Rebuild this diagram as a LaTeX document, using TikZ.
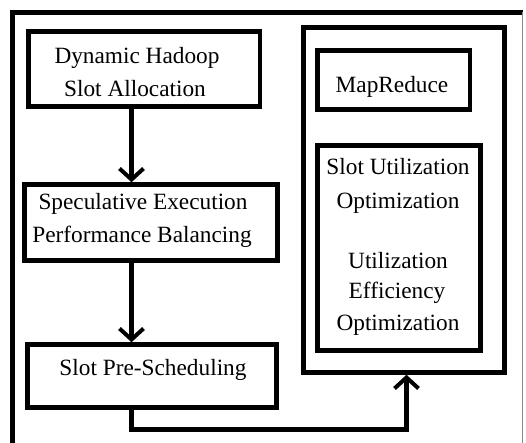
\documentclass[tikz,border=0pt]{standalone}
\usepackage{fontspec}
\setmainfont{Liberation Serif}
\usetikzlibrary{arrows.meta}
\begin{document}
\begin{tikzpicture}[x=1pt,y=-1pt,
  box/.style={draw=black,line width=4.5pt,inner sep=0pt,fill=none},
  lbl/.style={anchor=base,inner sep=0pt,font=\fontsize{23.3}{30}\selectfont},
  flow/.style={line width=4.5pt,-{Straight Barb[length=11pt,width=24pt,line width=4pt]}}]
\useasboundingbox (0,0) rectangle (526,443);
\fill[white] (0,0) rectangle (526,443);
% outer frame
\coordinate (fa) at (12.5,443);
\coordinate (fb) at (12.5,12.5);
\coordinate (fc) at (522.7,12.5);
\coordinate (fd) at (522.7,443);
\draw[line width=5pt] (fa) -- (fb) -- (fc);
\draw[line width=1pt,black!45] (fc) -- (fd);
% left boxes
\node[box,minimum width=231.5pt,minimum height=75pt] (b1) at (144.25,69) {};
\node[box,minimum width=253pt,minimum height=76pt] (b2) at (151,222.5) {};
\node[box,minimum width=249pt,minimum height=63pt] (b3) at (152,376) {};
% right boxes
\node[box,minimum width=201pt,minimum height=345pt] (rb) at (404,200) {};
\node[box,minimum width=152.5pt,minimum height=59pt] (mr) at (393.75,80) {};
\node[box,minimum width=163pt,minimum height=205pt] (su) at (399,248) {};
% texts
\node[lbl] (t1a) at (137,64) {Dynamic Hadoop};
\node[lbl] (t1b) at (135,97) {Slot Allocation};
\node[lbl] (t2a) at (143,210) {Speculative Execution};
\node[lbl] (t2b) at (142,242) {Performance Balancing};
\node[lbl] (t3) at (153,375) {Slot Pre-Scheduling};
\node[lbl] (t4) at (392,93) {MapReduce};
\node[lbl] (t5a) at (398,175) {Slot Utilization};
\node[lbl] (t5b) at (398,208) {Optimization};
\node[lbl] (t5c) at (398,268) {Utilization};
\node[lbl] (t5d) at (397,298) {Efficiency};
\node[lbl] (t5e) at (398,330) {Optimization};
% connectors
\draw[flow] (b1.south -| 131.5,0) -- (b2.north -| 131.5,0);
\draw[flow] (b2.south -| 131.5,0) -- (b3.north -| 131.5,0);
\coordinate (c1) at (131.5,429.5);
\coordinate (c2) at (406.5,429.5);
\draw[flow,line join=miter] (b3.south -| c1) -- (c1) -- (c2) -- (rb.south -| c2);
\end{tikzpicture}
\end{document}
